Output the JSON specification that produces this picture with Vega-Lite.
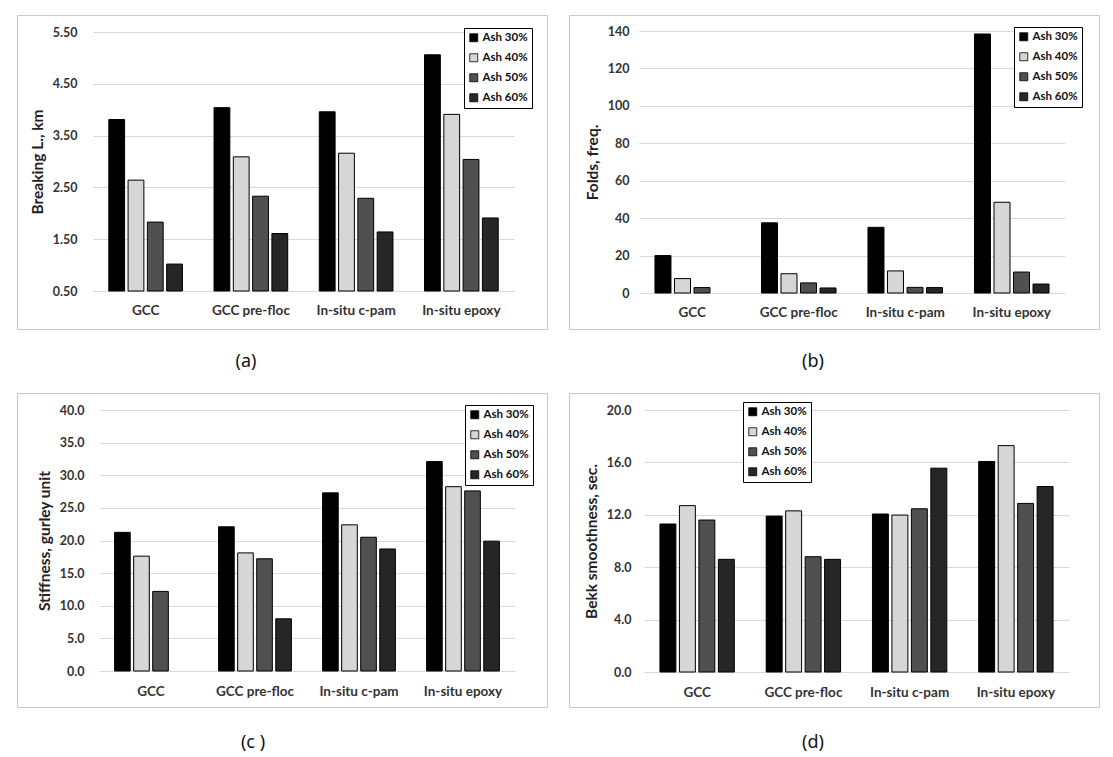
{
  "$schema": "https://vega.github.io/schema/vega-lite/v6.json",
  "padding": {"left": 16, "top": 14, "right": 0, "bottom": 0},
  "autosize": {"type": "pad"},
  "background": "white",
  "columns": 2,
  "spacing": {"row": 20, "column": 20},
  "datasets": {
    "a": [
      {"cat": "GCC", "ash": "Ash 30%", "v": 3.81}, {"cat": "GCC", "ash": "Ash 40%", "v": 2.64}, {"cat": "GCC", "ash": "Ash 50%", "v": 1.83}, {"cat": "GCC", "ash": "Ash 60%", "v": 1.02},
      {"cat": "GCC pre-floc", "ash": "Ash 30%", "v": 4.04}, {"cat": "GCC pre-floc", "ash": "Ash 40%", "v": 3.09}, {"cat": "GCC pre-floc", "ash": "Ash 50%", "v": 2.33}, {"cat": "GCC pre-floc", "ash": "Ash 60%", "v": 1.61},
      {"cat": "In-situ c-pam", "ash": "Ash 30%", "v": 3.96}, {"cat": "In-situ c-pam", "ash": "Ash 40%", "v": 3.16}, {"cat": "In-situ c-pam", "ash": "Ash 50%", "v": 2.29}, {"cat": "In-situ c-pam", "ash": "Ash 60%", "v": 1.64},
      {"cat": "In-situ epoxy", "ash": "Ash 30%", "v": 5.06}, {"cat": "In-situ epoxy", "ash": "Ash 40%", "v": 3.91}, {"cat": "In-situ epoxy", "ash": "Ash 50%", "v": 3.04}, {"cat": "In-situ epoxy", "ash": "Ash 60%", "v": 1.91}
    ],
    "b": [
      {"cat": "GCC", "ash": "Ash 30%", "v": 20.0}, {"cat": "GCC", "ash": "Ash 40%", "v": 7.7}, {"cat": "GCC", "ash": "Ash 50%", "v": 2.9},
      {"cat": "GCC pre-floc", "ash": "Ash 30%", "v": 37.5}, {"cat": "GCC pre-floc", "ash": "Ash 40%", "v": 10.3}, {"cat": "GCC pre-floc", "ash": "Ash 50%", "v": 5.4}, {"cat": "GCC pre-floc", "ash": "Ash 60%", "v": 2.7},
      {"cat": "In-situ c-pam", "ash": "Ash 30%", "v": 35.1}, {"cat": "In-situ c-pam", "ash": "Ash 40%", "v": 11.8}, {"cat": "In-situ c-pam", "ash": "Ash 50%", "v": 3.0}, {"cat": "In-situ c-pam", "ash": "Ash 60%", "v": 2.9},
      {"cat": "In-situ epoxy", "ash": "Ash 30%", "v": 138.4}, {"cat": "In-situ epoxy", "ash": "Ash 40%", "v": 48.5}, {"cat": "In-situ epoxy", "ash": "Ash 50%", "v": 11.2}, {"cat": "In-situ epoxy", "ash": "Ash 60%", "v": 4.8}
    ],
    "c": [
      {"cat": "GCC", "ash": "Ash 30%", "v": 21.25}, {"cat": "GCC", "ash": "Ash 40%", "v": 17.6}, {"cat": "GCC", "ash": "Ash 50%", "v": 12.2},
      {"cat": "GCC pre-floc", "ash": "Ash 30%", "v": 22.1}, {"cat": "GCC pre-floc", "ash": "Ash 40%", "v": 18.1}, {"cat": "GCC pre-floc", "ash": "Ash 50%", "v": 17.2}, {"cat": "GCC pre-floc", "ash": "Ash 60%", "v": 8.0},
      {"cat": "In-situ c-pam", "ash": "Ash 30%", "v": 27.3}, {"cat": "In-situ c-pam", "ash": "Ash 40%", "v": 22.4}, {"cat": "In-situ c-pam", "ash": "Ash 50%", "v": 20.5}, {"cat": "In-situ c-pam", "ash": "Ash 60%", "v": 18.7},
      {"cat": "In-situ epoxy", "ash": "Ash 30%", "v": 32.1}, {"cat": "In-situ epoxy", "ash": "Ash 40%", "v": 28.25}, {"cat": "In-situ epoxy", "ash": "Ash 50%", "v": 27.6}, {"cat": "In-situ epoxy", "ash": "Ash 60%", "v": 19.9}
    ],
    "d": [
      {"cat": "GCC", "ash": "Ash 30%", "v": 11.3}, {"cat": "GCC", "ash": "Ash 40%", "v": 12.7}, {"cat": "GCC", "ash": "Ash 50%", "v": 11.6}, {"cat": "GCC", "ash": "Ash 60%", "v": 8.6},
      {"cat": "GCC pre-floc", "ash": "Ash 30%", "v": 11.9}, {"cat": "GCC pre-floc", "ash": "Ash 40%", "v": 12.3}, {"cat": "GCC pre-floc", "ash": "Ash 50%", "v": 8.8}, {"cat": "GCC pre-floc", "ash": "Ash 60%", "v": 8.6},
      {"cat": "In-situ c-pam", "ash": "Ash 30%", "v": 12.06}, {"cat": "In-situ c-pam", "ash": "Ash 40%", "v": 11.98}, {"cat": "In-situ c-pam", "ash": "Ash 50%", "v": 12.46}, {"cat": "In-situ c-pam", "ash": "Ash 60%", "v": 15.56},
      {"cat": "In-situ epoxy", "ash": "Ash 30%", "v": 16.07}, {"cat": "In-situ epoxy", "ash": "Ash 40%", "v": 17.28}, {"cat": "In-situ epoxy", "ash": "Ash 50%", "v": 12.87}, {"cat": "In-situ epoxy", "ash": "Ash 60%", "v": 14.16}
    ]
  },
  "concat": [
    {
      "data": {"name": "a"},
      "width": 530, "height": 314,
      "title": {"text": "(a)", "orient": "bottom", "offset": 24, "dx": -36},
      "mark": {"type": "bar", "stroke": "black", "strokeWidth": 1},
      "encoding": {
        "x": {"field": "cat", "type": "nominal", "sort": ["GCC", "GCC pre-floc", "In-situ c-pam", "In-situ epoxy"],
          "scale": {"range": [76, 497], "paddingInner": 0.3, "paddingOuter": 0.15},
          "axis": {"title": null, "labelAngle": 0, "grid": false, "offset": -38, "labelPadding": 12}},
        "xOffset": {"field": "ash", "type": "nominal", "scale": {"domain": ["Ash 30%", "Ash 40%", "Ash 50%", "Ash 60%"], "paddingInner": 0.18}},
        "y": {"field": "v", "type": "quantitative",
          "scale": {"domain": [0.5, 5.5], "range": [276, 17], "nice": false, "zero": false},
          "axis": {"title": "Breaking L., km", "values": [0.5, 1.5, 2.5, 3.5, 4.5, 5.5], "format": ".2f", "offset": -64, "labelPadding": 4, "titlePadding": 7}},
        "y2": {"datum": 0.5},
        "fill": {"field": "ash", "type": "nominal",
          "scale": {"domain": ["Ash 30%", "Ash 40%", "Ash 50%", "Ash 60%"], "range": ["#000000", "#d6d6d6", "#505050", "#262626"]},
          "legend": {"orient": "none", "legendX": 447, "legendY": 13}}
      }
    },
    {
      "data": {"name": "b"},
      "width": 530, "height": 314,
      "title": {"text": "(b)", "orient": "bottom", "offset": 24, "dx": -21},
      "mark": {"type": "bar", "stroke": "black", "strokeWidth": 1},
      "encoding": {
        "x": {"field": "cat", "type": "nominal", "sort": ["GCC", "GCC pre-floc", "In-situ c-pam", "In-situ epoxy"],
          "scale": {"range": [70, 496], "paddingInner": 0.3, "paddingOuter": 0.15},
          "axis": {"title": null, "labelAngle": 0, "grid": false, "offset": -36, "labelPadding": 12}},
        "xOffset": {"field": "ash", "type": "nominal", "scale": {"domain": ["Ash 30%", "Ash 40%", "Ash 50%", "Ash 60%"], "paddingInner": 0.18}},
        "y": {"field": "v", "type": "quantitative",
          "scale": {"domain": [0, 140], "range": [278, 16], "nice": false},
          "axis": {"title": "Folds, freq.", "values": [0, 20, 40, 60, 80, 100, 120, 140], "format": "d", "offset": -64, "labelPadding": 4, "titlePadding": 7}},
        "y2": {"datum": 0},
        "fill": {"field": "ash", "type": "nominal",
          "scale": {"domain": ["Ash 30%", "Ash 40%", "Ash 50%", "Ash 60%"], "range": ["#000000", "#d6d6d6", "#505050", "#262626"]},
          "legend": {"orient": "none", "legendX": 445, "legendY": 12}}
      }
    },
    {
      "data": {"name": "c"},
      "width": 530, "height": 314,
      "title": {"text": "(c )", "orient": "bottom", "offset": 27, "dx": -29},
      "mark": {"type": "bar", "stroke": "black", "strokeWidth": 1},
      "encoding": {
        "x": {"field": "cat", "type": "nominal", "sort": ["GCC", "GCC pre-floc", "In-situ c-pam", "In-situ epoxy"],
          "scale": {"range": [82, 498], "paddingInner": 0.3, "paddingOuter": 0.15},
          "axis": {"title": null, "labelAngle": 0, "grid": false, "offset": -36, "labelPadding": 13}},
        "xOffset": {"field": "ash", "type": "nominal", "scale": {"domain": ["Ash 30%", "Ash 40%", "Ash 50%", "Ash 60%"], "paddingInner": 0.18}},
        "y": {"field": "v", "type": "quantitative",
          "scale": {"domain": [0, 40], "range": [278, 17], "nice": false},
          "axis": {"title": "Stiffness, gurley unit", "values": [0, 5, 10, 15, 20, 25, 30, 35, 40], "format": ".1f", "offset": -71, "labelPadding": 4, "titlePadding": 7}},
        "y2": {"datum": 0},
        "fill": {"field": "ash", "type": "nominal",
          "scale": {"domain": ["Ash 30%", "Ash 40%", "Ash 50%", "Ash 60%"], "range": ["#000000", "#d6d6d6", "#505050", "#262626"]},
          "legend": {"orient": "none", "legendX": 448, "legendY": 12}}
      }
    },
    {
      "data": {"name": "d"},
      "width": 530, "height": 314,
      "title": {"text": "(d)", "orient": "bottom", "offset": 27, "dx": -21},
      "mark": {"type": "bar", "stroke": "black", "strokeWidth": 1},
      "encoding": {
        "x": {"field": "cat", "type": "nominal", "sort": ["GCC", "GCC pre-floc", "In-situ c-pam", "In-situ epoxy"],
          "scale": {"range": [75, 500], "paddingInner": 0.3, "paddingOuter": 0.15},
          "axis": {"title": null, "labelAngle": 0, "grid": false, "offset": -35, "labelPadding": 13}},
        "xOffset": {"field": "ash", "type": "nominal", "scale": {"domain": ["Ash 30%", "Ash 40%", "Ash 50%", "Ash 60%"], "paddingInner": 0.18}},
        "y": {"field": "v", "type": "quantitative",
          "scale": {"domain": [0, 20], "range": [279, 17], "nice": false},
          "axis": {"title": "Bekk smoothness, sec.", "values": [0, 4, 8, 12, 16, 20], "format": ".1f", "offset": -66, "labelPadding": 4, "titlePadding": 7}},
        "y2": {"datum": 0},
        "fill": {"field": "ash", "type": "nominal",
          "scale": {"domain": ["Ash 30%", "Ash 40%", "Ash 50%", "Ash 60%"], "range": ["#000000", "#d6d6d6", "#505050", "#262626"]},
          "legend": {"orient": "none", "legendX": 174, "legendY": 9}}
      }
    }
  ],
  "resolve": {
    "scale": {"x": "independent", "y": "independent", "xOffset": "independent", "fill": "independent"},
    "axis": {"x": "independent", "y": "independent"},
    "legend": {"fill": "independent"}
  },
  "config": {
    "font": "Lato",
    "view": {"stroke": "#c8c8c8", "strokeWidth": 1},
    "title": {"font": "Noto Sans", "fontSize": 18, "fontWeight": "normal", "color": "#111", "anchor": "middle"},
    "axis": {
      "labelFont": "Lato", "labelFontWeight": "bold", "labelFontSize": 12.5, "labelColor": "#333",
      "titleFont": "Lato", "titleFontWeight": "bold", "titleFontSize": 15.5, "titleColor": "#222",
      "gridColor": "#d9d9d9", "gridWidth": 1, "domain": false, "ticks": false, "tickSize": 0
    },
    "axisX": {"labelFontSize": 13.5},
    "legend": {
      "title": null, "strokeColor": "#000", "fillColor": "white", "padding": 4,
      "symbolType": "square", "symbolSize": 64, "symbolStrokeColor": "#000", "symbolStrokeWidth": 0.8,
      "labelFont": "Lato", "labelFontWeight": "bold", "labelFontSize": 11.5, "labelColor": "#111",
      "rowPadding": 7, "labelOffset": 3
    }
  }
}
